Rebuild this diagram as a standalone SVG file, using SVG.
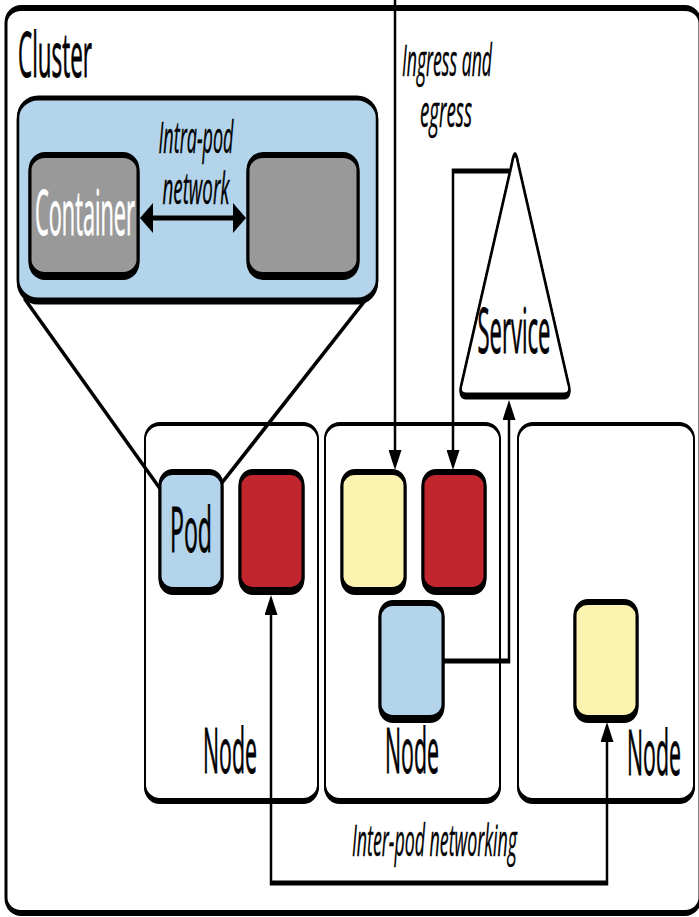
<svg xmlns="http://www.w3.org/2000/svg" width="699" height="917" viewBox="0 0 699 917">
<defs>
<style>
.lbl{font-family:"Open Sans","Liberation Sans",sans-serif;font-size:62px;fill:#000;stroke:#000;stroke-width:0.8px;}
.wht{fill:#fff;stroke:#fff;}
.it{font-family:"Open Sans","Liberation Sans",sans-serif;font-size:43px;font-style:italic;fill:#000;stroke:#000;stroke-width:0.4px;}
.box{stroke:#000;stroke-width:5;filter:url(#sh);}
.pod{stroke:#000;stroke-width:6;filter:url(#sh);}
.nd{fill:#fff;stroke:#000;stroke-width:4;filter:url(#sh);}
.blue{fill:#b3d4ea;}
.red{fill:#c1272d;}
.yel{fill:#fdf3b1;}
.gray{fill:#999999;}
.conn{fill:none;stroke:#000;stroke-width:5;}
</style>
<filter id="sh" x="-5%" y="-5%" width="110%" height="115%">
<feOffset in="SourceAlpha" dx="0" dy="2" result="o"/>
<feMerge><feMergeNode in="o"/><feMergeNode in="SourceGraphic"/></feMerge>
</filter>
<marker id="ah" viewBox="0 0 20 26" markerWidth="20" markerHeight="26" refX="10" refY="13" orient="auto-start-reverse" markerUnits="userSpaceOnUse"><path d="M0,0 L20,13 L0,26 z" fill="#000"/></marker>
<marker id="ahh" viewBox="0 0 26 30" markerWidth="26" markerHeight="30" refX="13" refY="15" orient="auto-start-reverse" markerUnits="userSpaceOnUse"><path d="M0,0 L26,15 L0,30 z" fill="#000"/></marker>
</defs>
<rect width="699" height="917" fill="#fff"/>
<g transform="scale(0.5,1)">
<g id="cluster">
<rect x="12" y="8" width="1388" height="905" rx="30" ry="15" fill="#fff" stroke="#000" stroke-width="6"/>
<text class="lbl" x="36" y="77" textLength="148" lengthAdjust="spacingAndGlyphs">Cluster</text>
</g>
<g id="node1">
<rect class="nd" x="290" y="424" width="346" height="376" rx="30" ry="15"/>
<text class="lbl" x="406" y="773" textLength="108" lengthAdjust="spacingAndGlyphs">Node</text>
</g>
<g id="node2">
<rect class="nd" x="650" y="424" width="350" height="376" rx="30" ry="15"/>
<text class="lbl" x="770" y="773" textLength="108" lengthAdjust="spacingAndGlyphs">Node</text>
</g>
<g id="node3">
<rect class="nd" x="1036" y="424" width="352" height="376" rx="30" ry="15"/>
<text class="lbl" x="1254" y="775" textLength="108" lengthAdjust="spacingAndGlyphs">Node</text>
</g>
<g id="pod-detail">
<rect class="box blue" x="36" y="98" width="718" height="202" rx="40" ry="20"/>
<text class="it" x="392" y="153" text-anchor="middle" textLength="150" lengthAdjust="spacingAndGlyphs">Intra-pod</text>
<text class="it" x="392" y="204" text-anchor="middle" textLength="134" lengthAdjust="spacingAndGlyphs">network</text>
</g>
<g id="container1">
<rect class="pod gray" x="60" y="155" width="216" height="120" rx="30" ry="15"/>
<text class="lbl wht" x="170" y="235" text-anchor="middle" textLength="200" lengthAdjust="spacingAndGlyphs">Container</text>
</g>
<g id="container2">
<rect class="pod gray" x="496" y="155" width="220" height="120" rx="30" ry="15"/>
</g>
<g id="service">
<path d="M1024,163 Q1030,146 1036,163 L1136,382 Q1144,395 1128,395 L932,395 Q916,395 924,382 Z" fill="#fff" stroke="#000" stroke-width="5" stroke-linejoin="round" filter="url(#sh)"/>
<text class="lbl" x="1028" y="353" text-anchor="middle" textLength="146" lengthAdjust="spacingAndGlyphs">Service</text>
</g>
<g id="zoom-lines">
<line x1="48" y1="298" x2="322" y2="490" stroke="#000" stroke-width="5"/>
<line x1="734" y1="298" x2="442" y2="484" stroke="#000" stroke-width="5"/>
</g>
<g id="pod1">
<rect class="pod blue" x="320" y="472" width="124" height="118" rx="26" ry="13"/>
<text class="lbl" x="382" y="552" text-anchor="middle" textLength="84" lengthAdjust="spacingAndGlyphs">Pod</text>
</g>
<g id="pod2"><rect class="pod red" x="480" y="472" width="126" height="118" rx="26" ry="13"/></g>
<g id="pod3"><rect class="pod yel" x="684" y="472" width="126" height="118" rx="26" ry="13"/></g>
<g id="pod4"><rect class="pod red" x="846" y="472" width="124" height="118" rx="26" ry="13"/></g>
<g id="pod5"><rect class="pod blue" x="760" y="603" width="126" height="115" rx="26" ry="13"/></g>
<g id="pod6"><rect class="pod yel" x="1150" y="602" width="124" height="116" rx="26" ry="13"/></g>
<g id="connectors">
<line class="conn" x1="293" y1="218" x2="479" y2="218" stroke-width="6" marker-start="url(#ahh)" marker-end="url(#ahh)"/>
<line class="conn" x1="790" y1="-5" x2="790" y2="460" marker-end="url(#ah)"/>
<path class="conn" d="M1018,171 H906 V460" marker-end="url(#ah)"/>
<path class="conn" d="M886,661 H1018 V410" marker-end="url(#ah)"/>
<path class="conn" d="M542,605 V883 H1214 V732" marker-start="url(#ah)" marker-end="url(#ah)"/>
<text class="it" x="804" y="76" textLength="180" lengthAdjust="spacingAndGlyphs">Ingress and</text>
<text class="it" x="840" y="127" textLength="104" lengthAdjust="spacingAndGlyphs">egress</text>
<text class="it" x="704" y="856" textLength="330" lengthAdjust="spacingAndGlyphs">Inter-pod networking</text>
</g>
</g>
</svg>
